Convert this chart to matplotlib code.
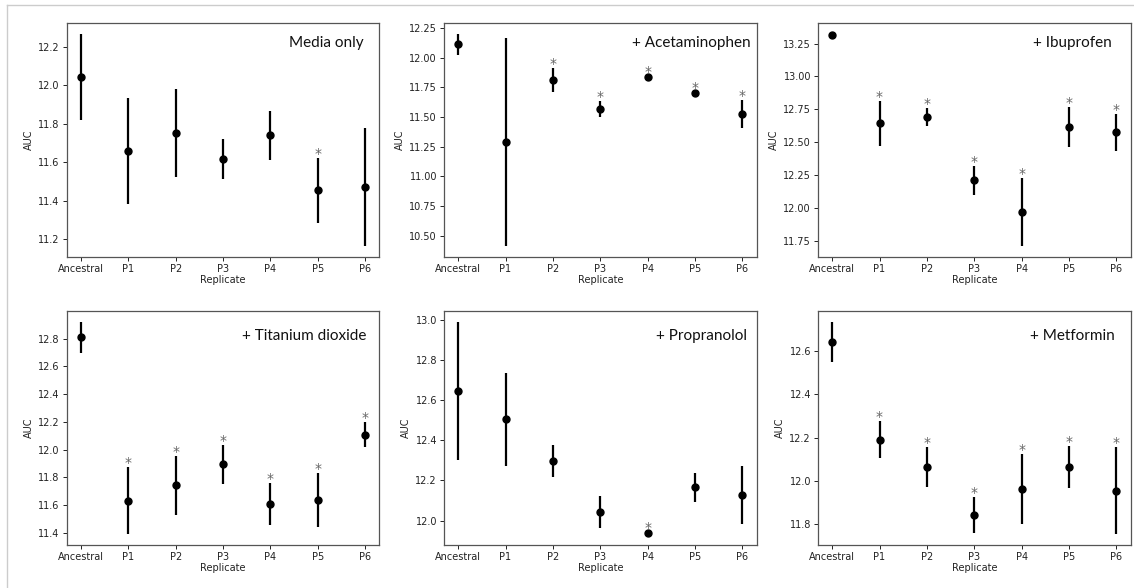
import numpy as np
import matplotlib.pyplot as plt
from matplotlib.lines import Line2D
from matplotlib.ticker import MultipleLocator

replicates = ['Ancestral', 'P1', 'P2', 'P3', 'P4', 'P5', 'P6']
titles = ['Media only', '+ Acetaminophen', '+ Ibuprofen',
          '+ Titanium dioxide', '+ Propranolol', '+ Metformin']

# mean AUC and half-width of error bar per replicate
media_mean = [12.045, 11.659, 11.752, 11.618, 11.741, 11.455, 11.470]
media_err = [0.224, 0.277, 0.228, 0.106, 0.128, 0.169, 0.306]
media_sig = [0, 0, 0, 0, 0, 1, 0]

acet_mean = [12.110, 11.289, 11.808, 11.570, 11.836, 11.702, 11.523]
acet_err = [0.092, 0.878, 0.100, 0.068, 0.010, 0.012, 0.118]
acet_sig = [0, 0, 1, 1, 1, 1, 1]

ibu_mean = [13.314, 12.642, 12.692, 12.208, 11.968, 12.617, 12.576]
ibu_err = [0.012, 0.172, 0.070, 0.111, 0.261, 0.152, 0.140]
ibu_sig = [0, 1, 1, 1, 1, 1, 1]

tio2_mean = [12.808, 11.633, 11.743, 11.895, 11.611, 11.640, 12.108]
tio2_err = [0.113, 0.243, 0.212, 0.141, 0.150, 0.194, 0.088]
tio2_sig = [0, 1, 1, 1, 1, 1, 1]

prop_mean = [12.647, 12.504, 12.296, 12.044, 11.936, 12.166, 12.128]
prop_err = [0.343, 0.231, 0.078, 0.080, 0.005, 0.073, 0.145]
prop_sig = [0, 0, 0, 0, 1, 0, 0]

met_mean = [12.642, 12.191, 12.064, 11.845, 11.963, 12.065, 11.955]
met_err = [0.093, 0.084, 0.093, 0.083, 0.163, 0.095, 0.201]
met_sig = [0, 1, 1, 1, 1, 1, 1]

means = [media_mean, acet_mean, ibu_mean, tio2_mean, prop_mean, met_mean]
errs = [media_err, acet_err, ibu_err, tio2_err, prop_err, met_err]
sigs = [media_sig, acet_sig, ibu_sig, tio2_sig, prop_sig, met_sig]
ystep = [0.2, 0.25, 0.25, 0.2, 0.2, 0.2]

# axes boxes [left, bottom, width, height] in figure fraction
lefts = [0.0588, 0.3915, 0.7213]
bottoms = [0.563, 0.073]
w, h = 0.2757, 0.398
label_pos = [(0.95, 0.945), (0.98, 0.945), (0.94, 0.945),
             (0.96, 0.925), (0.97, 0.925), (0.95, 0.925)]

fig = plt.figure(figsize=(11.34, 5.88), dpi=100)

# light frame of the original screenshot
fig.add_artist(Line2D([7/1134, 1], [1-5/588, 1-5/588], color='#cccccc', lw=1))
fig.add_artist(Line2D([7/1134, 7/1134], [0, 1-5/588], color='#cccccc', lw=1))

x = np.arange(len(replicates))
for k in range(6):
    ax = fig.add_axes([lefts[k % 3], bottoms[k // 3], w, h])
    m = np.array(means[k])
    e = np.array(errs[k])
    ax.errorbar(x, m, yerr=e, fmt='o', color='black', ms=5, elinewidth=1.6, capsize=0)
    for i in range(len(x)):
        if sigs[k][i]:
            ax.text(x[i], m[i] + e[i], '*', ha='center', va='baseline',
                    fontsize=10, color='#666666')
    ax.yaxis.set_major_locator(MultipleLocator(ystep[k]))
    ax.set_xticks(x)
    ax.set_xticklabels(replicates)
    ax.set_xlabel('Replicate', fontsize=7, color='#222222', labelpad=1)
    ax.set_ylabel('AUC', fontsize=7, color='#222222', labelpad=3)
    ax.tick_params(labelsize=7, colors='#222222', length=3, width=0.7, pad=2)
    for s in ax.spines.values():
        s.set_color('#555555')
        s.set_linewidth(0.9)
    lx, ly = label_pos[k]
    ax.text(lx, ly, titles[k], transform=ax.transAxes, ha='right', va='top',
            fontsize=11, family='Lato', color='#111111')

fig.savefig('out.png', dpi=100)
